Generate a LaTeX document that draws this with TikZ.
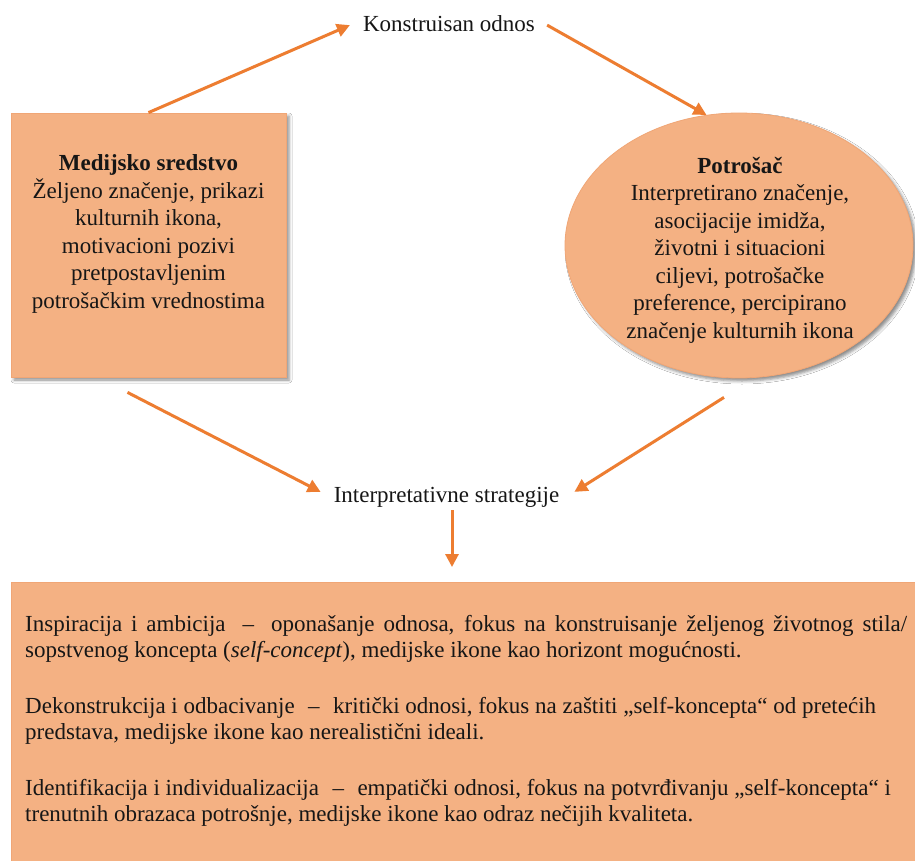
\documentclass[tikz,border=0pt]{standalone}
\usepackage{fontspec}
\setmainfont{Liberation Serif}
\usetikzlibrary{arrows.meta,calc,shapes.geometric,shadows.blur}

\definecolor{boxfill}{HTML}{F4B183}
\definecolor{boxline}{HTML}{F0A676}
\definecolor{arrowc}{HTML}{ED7D31}
\definecolor{inktext}{HTML}{161616}

\tikzset{
  panel/.style={fill=boxfill, draw=boxline, line width=0.8pt, inner sep=0pt,
    blur shadow={shadow xshift=3pt, shadow yshift=-3pt, shadow blur radius=3pt, shadow opacity=45}},
  stratbox/.style={fill=boxfill, draw=boxline, line width=0.8pt, inner sep=0pt, anchor=north west},
  flow/.style={draw=arrowc, line width=3pt, -{Triangle[length=13pt,width=13pt]}},
  midtext/.style={font=\fontsize{23}{27.5}\selectfont, inner sep=0pt, text=inktext},
  bigtext/.style={font=\fontsize{23}{27.5}\selectfont, align=center, inner sep=0pt, text=inktext},
  bodytext/.style={font=\fontsize{23}{26}\selectfont, align=left, inner sep=0pt, text=inktext, anchor=north west},
}

\begin{document}
\begin{tikzpicture}[x=1pt,y=-1pt]
  \useasboundingbox (0,0) rectangle (915,861);
  \clip (0,0) rectangle (915,861);
  \fill[white] (0,0) rectangle (915,861);

  % media source box
  \node[panel, minimum width=275pt, minimum height=264pt] (media) at (148.5,245) {};
  \node[bigtext] (mediatext) at (148.5,234)
    {\textbf{Medijsko sredstvo}\\Željeno značenje, prikazi\\kulturnih ikona,\\motivacioni pozivi\\pretpostavljenim\\potrošačkim vrednostima};

  % consumer ellipse
  \node[panel, ellipse, minimum width=348pt, minimum height=265pt] (consumer) at (739,245.5) {};
  \node[bigtext] (consumertext) at (740,250)
    {\textbf{Potrošač}\\Interpretirano značenje,\\asocijacije imidža,\\životni i situacioni\\ciljevi, potrošačke\\preference, percipirano\\značenje kulturnih ikona};

  % middle labels
  \node[midtext, anchor=base] (konst) at (449,32) {Konstruisan odnos};
  \node[midtext, anchor=base] (interp) at (446.5,502) {Interpretativne strategije};

  % strategies box
  \node[stratbox, minimum width=925pt, minimum height=300pt] (strat) at (11,582) {};
  \node[bodytext] (strattext) at (25,615)
    {\hbox to 882pt{Inspiracija i ambicija\hspace{17pt}–\hspace{17pt}oponašanje odnosa, fokus na konstruisanje željenog životnog stila/}\\
     sopstvenog koncepta (\textit{self-concept}), medijske ikone kao horizont mogućnosti.\\[30pt]
     Dekonstrukcija i odbacivanje\hspace{13.5pt}–\hspace{13.5pt}kritički odnosi, fokus na zaštiti „self-koncepta“ od pretećih\\
     predstava, medijske ikone kao nerealistični ideali.\\[30pt]
     Identifikacija i individualizacija\hspace{13.5pt}–\hspace{13.5pt}empatički odnosi, fokus na potvrđivanju „self-koncepta“ i\\
     trenutnih obrazaca potrošnje, medijske ikone kao odraz nečijih kvaliteta.};

  % connectors
  \draw[flow] (media.north) -- ($(konst.west)+(-13,1)$);
  \draw[flow] ($(konst.east)+(12,1)$) -- (consumer.104);
  \draw[flow] ($(media.south)+(-21,15)$) -- ($(interp.west)+(-13,-5)$);
  \draw[flow] ($(consumer.south)+(-15,19)$) -- ($(interp.east)+(15,-5)$);
  \draw[flow] ($(interp.south)+(5.5,3)$) -- ($(interp.south |- strat.north)+(5.5,-15)$);
\end{tikzpicture}
\end{document}
